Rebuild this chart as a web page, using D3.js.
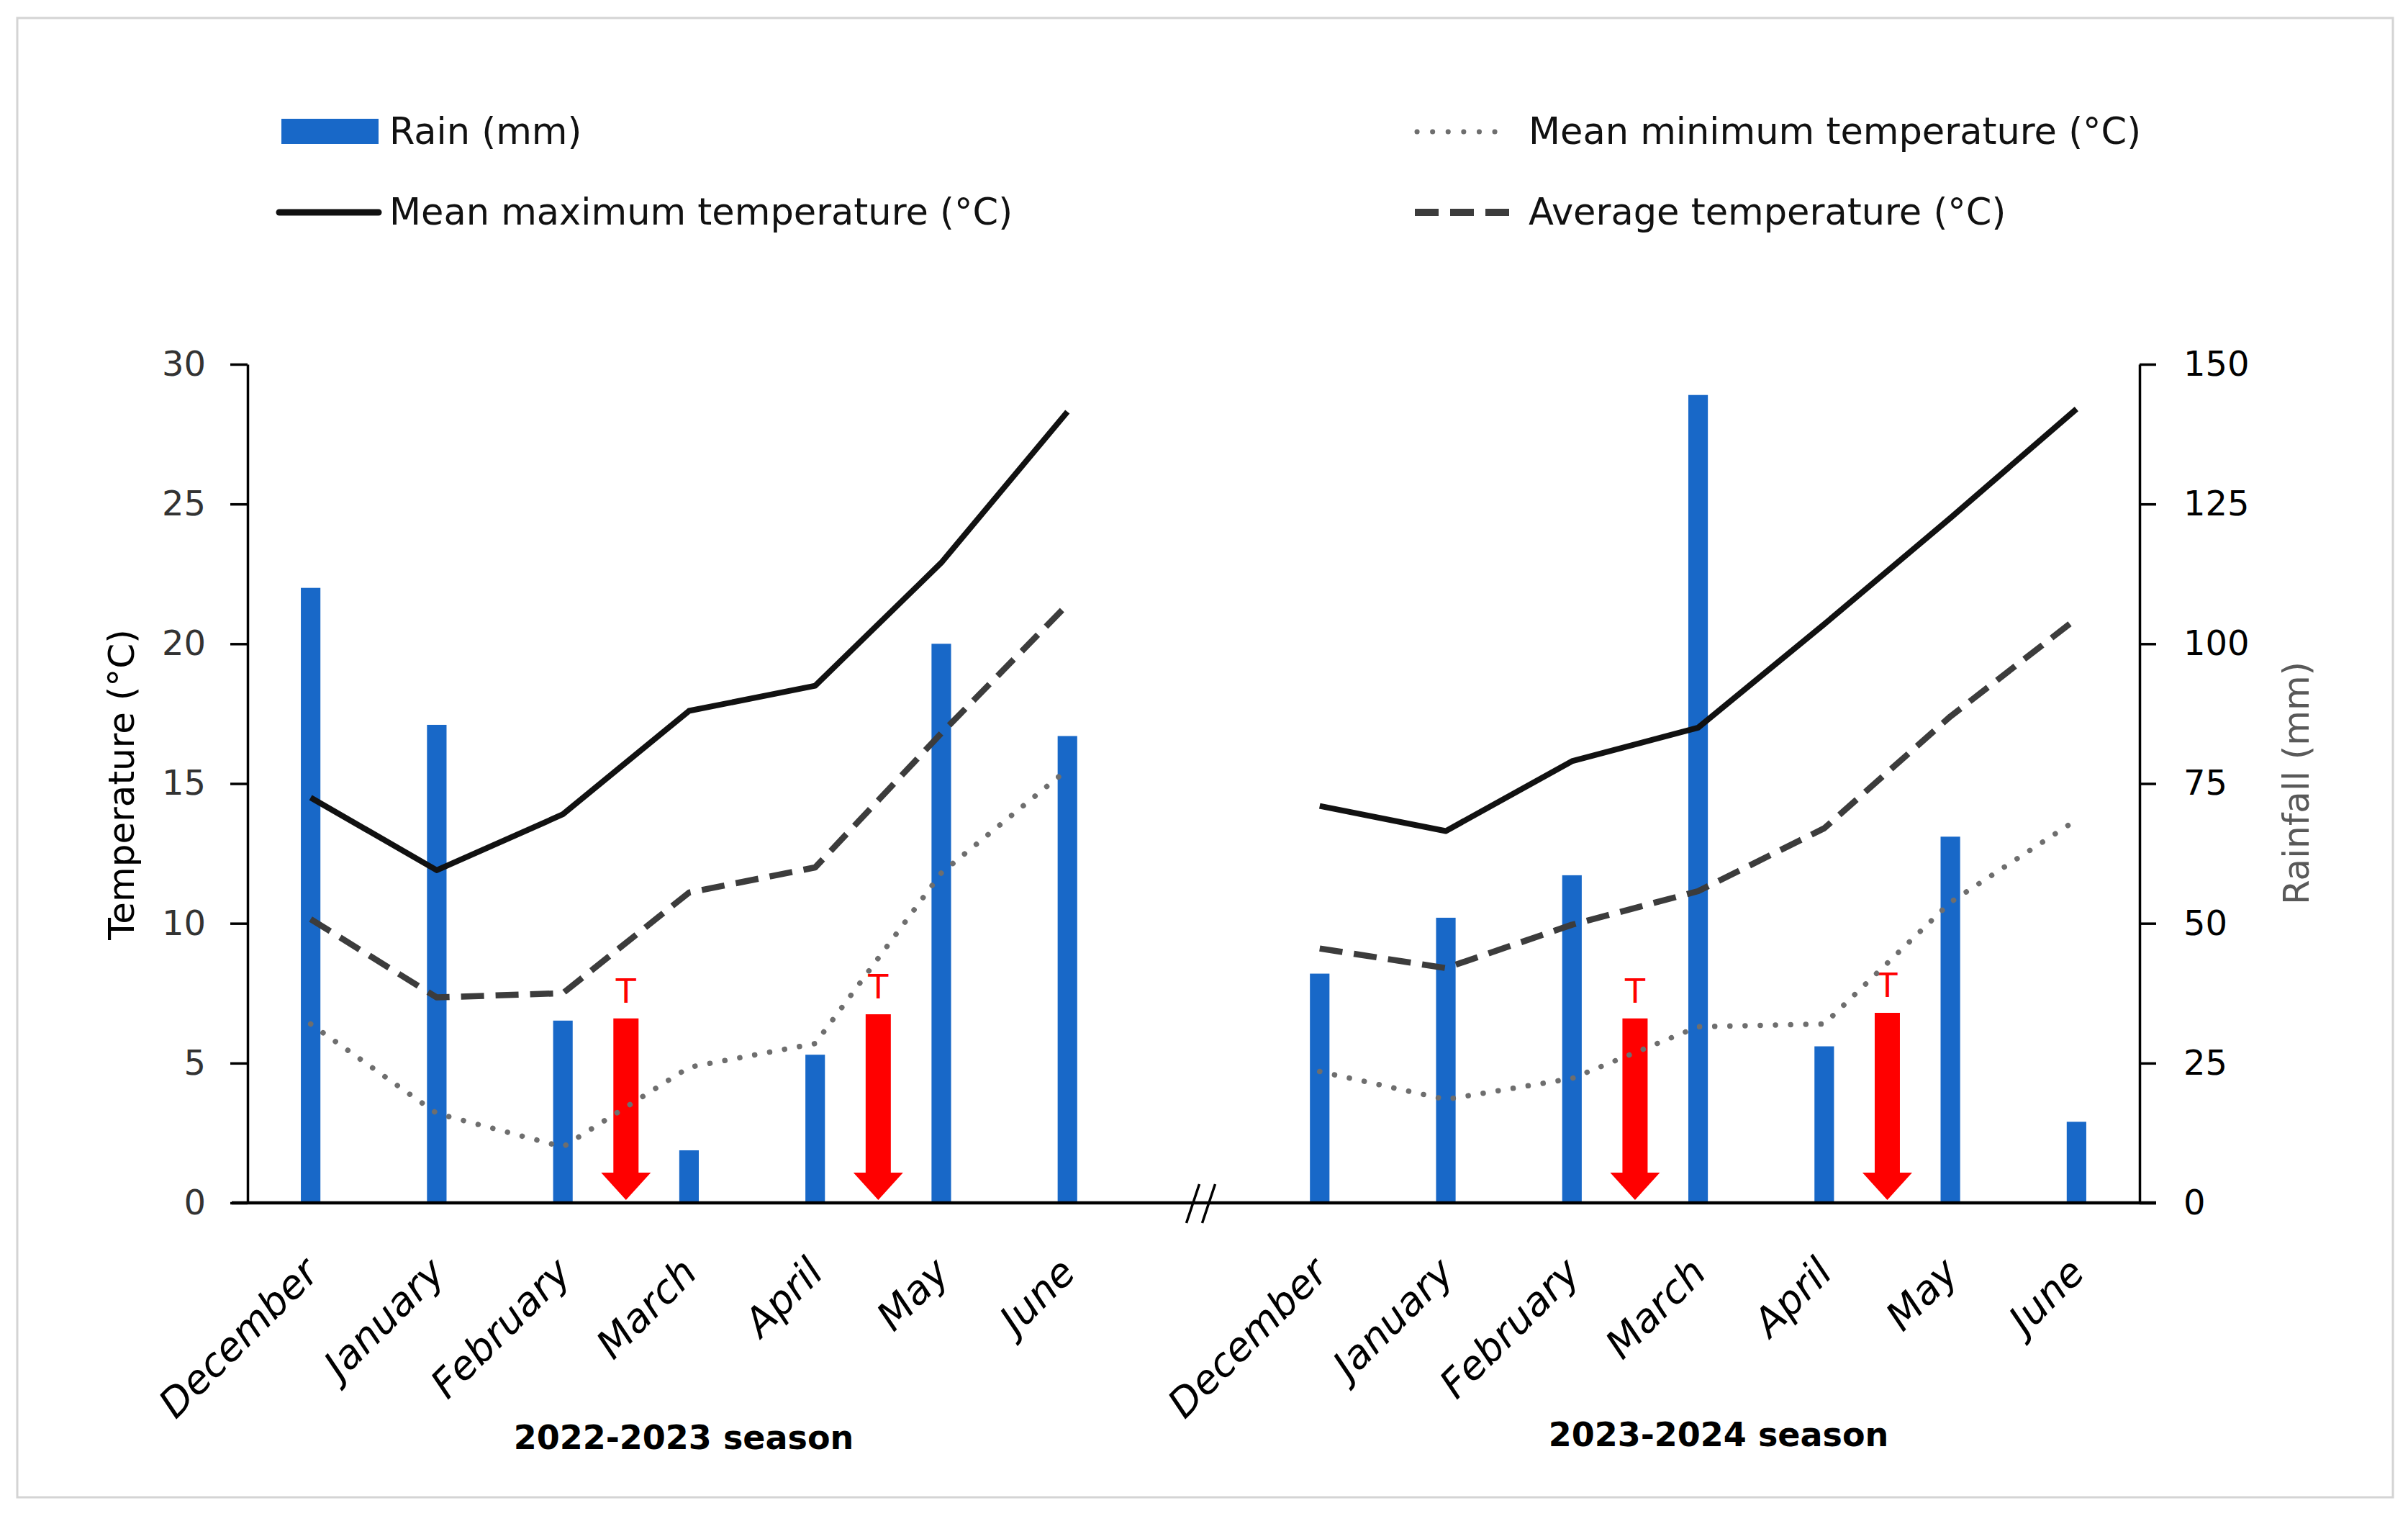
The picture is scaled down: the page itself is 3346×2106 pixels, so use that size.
<!DOCTYPE html>
<html>
<head>
<meta charset="utf-8">
<script src="https://cdn.jsdelivr.net/npm/d3@7"></script>
<style>
  html, body { margin: 0; padding: 0; background: #fff; }
  text { font-family: "DejaVu Sans", sans-serif; }
</style>
</head>
<body>
<svg id="chart" width="3346" height="2106"></svg>
<script>
// chart values
var months = ["December", "January", "February", "March", "April", "May", "June"];
var seasons = ["2022-2023 season", "2023-2024 season"];
var rain2223 = [110, 85.5, 32.6, 9.4, 26.5, 100, 83.5];
var rain2324 = [41, 51, 58.6, 144.5, 28, 65.5, 14.5];
var tmax2223 = [14.5, 11.9, 13.9, 17.6, 18.5, 22.9, 28.3];
var tmax2324 = [14.2, 13.3, 15.8, 17.0, 20.7, 24.5, 28.4];
var tavg2223 = [10.15, 7.35, 7.5, 11.1, 12.0, 16.8, 21.4];
var tavg2324 = [9.1, 8.4, 9.95, 11.15, 13.4, 17.4, 20.9];
var tmin2223 = [6.4, 3.2, 2.0, 4.85, 5.7, 11.8, 15.5];
var tmin2324 = [4.7, 3.7, 4.45, 6.3, 6.4, 10.75, 13.7];
// treatment arrows: placed after month index, top in °C
var arrowAfter = [2, 4];
var arrowTop2223 = [6.6, 6.75];
var arrowTop2324 = [6.6, 6.8];
var tempTicks = [0, 5, 10, 15, 20, 25, 30];
var rainTicks = [0, 25, 50, 75, 100, 125, 150];

var svg = d3.select("#chart");

// outer frame
svg.append("rect")
    .attr("x", 24).attr("y", 25)
    .attr("width", 3301).attr("height", 2055)
    .attr("fill", "none")
    .attr("stroke", "#d4d4d4")
    .attr("stroke-width", 3);

var keysA = months.map(function(m) { return "a-" + m; });
var keysB = months.map(function(m) { return "b-" + m; });
var keys = keysA.concat(["gap"], keysB);

var x = d3.scaleBand().domain(keys).range([344, 2973]).padding(0);
var yT = d3.scaleLinear().domain([0, 30]).range([1671, 506]);
var yR = d3.scaleLinear().domain([0, 150]).range([1671, 506]);
var cx = function(k) { return x(k) + x.bandwidth() / 2; };
var barW = x.bandwidth() * 0.155;

var seasonData = [
    { keys: keysA, rain: rain2223, tmax: tmax2223, tavg: tavg2223, tmin: tmin2223, arrows: arrowTop2223 },
    { keys: keysB, rain: rain2324, tmax: tmax2324, tavg: tavg2324, tmin: tmin2324, arrows: arrowTop2324 }
];

// bars
seasonData.forEach(function(s) {
    svg.append("g").selectAll("rect")
        .data(s.rain)
        .enter().append("rect")
        .attr("x", function(d, i) { return cx(s.keys[i]) - barW / 2; })
        .attr("y", function(d) { return yR(d); })
        .attr("width", barW)
        .attr("height", function(d) { return yR(0) - yR(d); })
        .attr("fill", "#1868c8");
});

// arrows
seasonData.forEach(function(s) {
    arrowAfter.forEach(function(a, j) {
        var xm = (cx(s.keys[a]) + cx(s.keys[a + 1])) / 2;
        var top = yT(s.arrows[j]);
        var tip = yT(0) - 4;
        var hh = 38, sw = 17.5, hw = 34.5;
        svg.append("path")
            .attr("d", "M" + (xm - sw) + "," + top + "L" + (xm + sw) + "," + top +
                "L" + (xm + sw) + "," + (tip - hh) + "L" + (xm + hw) + "," + (tip - hh) +
                "L" + xm + "," + tip + "L" + (xm - hw) + "," + (tip - hh) +
                "L" + (xm - sw) + "," + (tip - hh) + "Z")
            .attr("fill", "#ff0000");
        svg.append("text")
            .attr("x", xm).attr("y", top - 22)
            .attr("text-anchor", "middle")
            .attr("font-size", 46)
            .attr("fill", "#ff0000")
            .text("T");
    });
});

// temperature lines
var styles = {
    tmin: { stroke: "#6e6e6e", width: 7.5, dash: "0.1,21", cap: "round" },
    tavg: { stroke: "#3c3c3c", width: 8.5, dash: "32,16", cap: "butt" },
    tmax: { stroke: "#111111", width: 8, dash: null, cap: "butt" }
};
["tmin", "tavg", "tmax"].forEach(function(name) {
    var st = styles[name];
    seasonData.forEach(function(s) {
        var line = d3.line()
            .x(function(d, i) { return cx(s.keys[i]); })
            .y(function(d) { return yT(d); });
        svg.append("path")
            .datum(s[name])
            .attr("d", line)
            .attr("fill", "none")
            .attr("stroke", st.stroke)
            .attr("stroke-width", st.width)
            .attr("stroke-dasharray", st.dash)
            .attr("stroke-linecap", st.cap)
            .attr("stroke-linejoin", "round");
    });
});

// left axis
var gl = svg.append("g")
    .attr("transform", "translate(344,0)")
    .call(d3.axisLeft(yT).tickValues(tempTicks).tickSize(24).tickPadding(34).tickSizeOuter(0));
gl.select(".domain").attr("stroke", "#000").attr("stroke-width", 3.5);
gl.selectAll(".tick line").attr("stroke", "#000").attr("stroke-width", 3.5);
gl.selectAll(".tick text")
    .attr("font-family", "DejaVu Sans")
    .attr("font-size", 48)
    .attr("fill", "#333");

// right axis
var gr = svg.append("g")
    .attr("transform", "translate(2973,0)")
    .call(d3.axisRight(yR).tickValues(rainTicks).tickSize(23).tickPadding(38).tickSizeOuter(0));
gr.select(".domain").attr("stroke", "#000").attr("stroke-width", 3.5);
gr.selectAll(".tick line").attr("stroke", "#000").attr("stroke-width", 3.5);
gr.selectAll(".tick text")
    .attr("font-family", "DejaVu Sans")
    .attr("font-size", 48)
    .attr("fill", "#000");

// bottom axis with rotated month names
var gb = svg.append("g")
    .attr("transform", "translate(0,1671)")
    .call(d3.axisBottom(x).tickSize(0).tickFormat(function(k) { return k === "gap" ? "" : k.slice(2); }));
gb.select(".domain").remove();
gb.selectAll(".tick text")
    .attr("font-family", "DejaVu Sans")
    .attr("font-style", "italic")
    .attr("font-size", 55)
    .attr("fill", "#000")
    .attr("text-anchor", "end")
    .attr("dy", null)
    .attr("y", 0)
    .attr("transform", "translate(14,100) rotate(-45)");
svg.append("line")
    .attr("x1", 322).attr("x2", 2996)
    .attr("y1", 1671).attr("y2", 1671)
    .attr("stroke", "#000").attr("stroke-width", 4.5);

// axis break mark
var bx = cx("gap") + 10;
[-11, 11].forEach(function(o) {
    svg.append("line")
        .attr("x1", bx + o - 9).attr("y1", 1699)
        .attr("x2", bx + o + 9).attr("y2", 1645)
        .attr("stroke", "#000").attr("stroke-width", 3.5);
});

// axis titles
svg.append("text")
    .attr("transform", "translate(186,1090) rotate(-90)")
    .attr("text-anchor", "middle")
    .attr("font-size", 50)
    .attr("fill", "#000")
    .text("Temperature (°C)");
svg.append("text")
    .attr("transform", "translate(3208,1088) rotate(-90)")
    .attr("text-anchor", "middle")
    .attr("font-size", 50)
    .attr("fill", "#595959")
    .text("Rainfall (mm)");

// season labels
svg.append("text")
    .attr("x", 950).attr("y", 2013)
    .attr("text-anchor", "middle")
    .attr("font-size", 46).attr("font-weight", "bold")
    .text(seasons[0]);
svg.append("text")
    .attr("x", 2388).attr("y", 2009)
    .attr("text-anchor", "middle")
    .attr("font-size", 46).attr("font-weight", "bold")
    .text(seasons[1]);

// legend
var lg = svg.append("g").attr("font-size", 51).attr("fill", "#111");
lg.append("rect").attr("x", 391).attr("y", 165).attr("width", 135).attr("height", 35).attr("fill", "#1868c8");
lg.append("text").attr("x", 541).attr("y", 200).text("Rain (mm)");
lg.append("line").attr("x1", 388).attr("x2", 526).attr("y1", 295).attr("y2", 295)
    .attr("stroke", "#111").attr("stroke-width", 9).attr("stroke-linecap", "round");
lg.append("text").attr("x", 541).attr("y", 312).text("Mean maximum temperature (°C)");
lg.append("line").attr("x1", 1969).attr("x2", 2098).attr("y1", 183).attr("y2", 183)
    .attr("stroke", "#6e6e6e").attr("stroke-width", 7).attr("stroke-dasharray", "0.1,21.5").attr("stroke-linecap", "round");
lg.append("text").attr("x", 2124).attr("y", 200).text("Mean minimum temperature (°C)");
lg.append("line").attr("x1", 1966).attr("x2", 2098).attr("y1", 295).attr("y2", 295)
    .attr("stroke", "#3c3c3c").attr("stroke-width", 10).attr("stroke-dasharray", "33,16");
lg.append("text").attr("x", 2124).attr("y", 312).text("Average temperature (°C)");
</script>
</body>
</html>
